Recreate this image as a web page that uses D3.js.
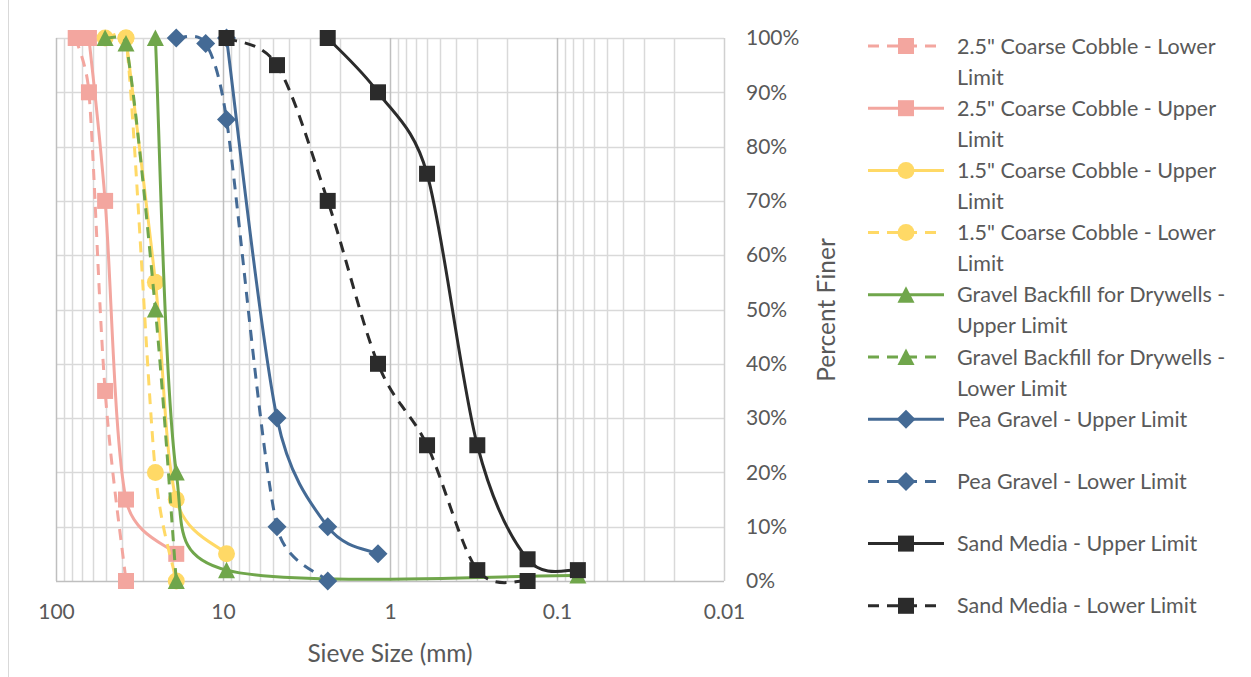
<!DOCTYPE html>
<html>
<head>
<meta charset="utf-8">
<script src="https://cdn.jsdelivr.net/npm/d3@7"></script>
<style>
  body { margin: 0; background: #fff; }
  svg text { font-family: Lato, "Open Sans", sans-serif; fill: #595959; }
</style>
</head>
<body>
<div id="chart"></div>
<script>
// sieve sizes (mm) and percent finer for each gradation band
const cobble25LowerSize = [76.2, 63.5, 50.8, 38.1];
const cobble25LowerPct  = [100, 90, 35, 0];
const cobble25UpperSize = [63.5, 50.8, 38.1, 19.05];
const cobble25UpperPct  = [100, 70, 15, 5];
const cobble15UpperSize = [38.1, 25.4, 19.05, 9.525];
const cobble15UpperPct  = [100, 55, 15, 5];
const cobble15LowerSize = [50.8, 38.1, 25.4, 19.05];
const cobble15LowerPct  = [100, 100, 20, 0];
const gravelUpperSize = [25.4, 19.05, 9.525, 0.075];
const gravelUpperPct  = [100, 20, 2, 1];
const gravelLowerSize = [50.8, 38.1, 25.4, 19.05];
const gravelLowerPct  = [100, 99, 50, 0];
const peaUpperSize = [9.525, 4.75, 2.36, 1.18];
const peaUpperPct  = [100, 30, 10, 5];
const peaLowerSize = [19.05, 12.7, 9.525, 4.75, 2.36];
const peaLowerPct  = [100, 99, 85, 10, 0];
const sandUpperSize = [2.36, 1.18, 0.6, 0.3, 0.15, 0.075];
const sandUpperPct  = [100, 90, 75, 25, 4, 2];
const sandLowerSize = [9.525, 4.75, 2.36, 1.18, 0.6, 0.3, 0.15];
const sandLowerPct  = [100, 95, 70, 40, 25, 2, 0];

const xTicks = [100, 10, 1, 0.1, 0.01];
const yTicks = [0, 10, 20, 30, 40, 50, 60, 70, 80, 90, 100];

const series = [
  {name: ["2.5\" Coarse Cobble - Lower", "Limit"], size: cobble25LowerSize, pct: cobble25LowerPct, color: "#F3A69F", dash: true, mark: "square"},
  {name: ["2.5\" Coarse Cobble - Upper", "Limit"], size: cobble25UpperSize, pct: cobble25UpperPct, color: "#F3A69F", dash: false, mark: "square"},
  {name: ["1.5\" Coarse Cobble - Upper", "Limit"], size: cobble15UpperSize, pct: cobble15UpperPct, color: "#FFD966", dash: false, mark: "circle"},
  {name: ["1.5\" Coarse Cobble - Lower", "Limit"], size: cobble15LowerSize, pct: cobble15LowerPct, color: "#FFD966", dash: true, mark: "circle"},
  {name: ["Gravel Backfill for Drywells -", "Upper Limit"], size: gravelUpperSize, pct: gravelUpperPct, color: "#70A64B", dash: false, mark: "triangle"},
  {name: ["Gravel Backfill for Drywells -", "Lower Limit"], size: gravelLowerSize, pct: gravelLowerPct, color: "#70A64B", dash: true, mark: "triangle"},
  {name: ["Pea Gravel - Upper Limit"], size: peaUpperSize, pct: peaUpperPct, color: "#446A95", dash: false, mark: "diamond"},
  {name: ["Pea Gravel - Lower Limit"], size: peaLowerSize, pct: peaLowerPct, color: "#446A95", dash: true, mark: "diamond"},
  {name: ["Sand Media - Upper Limit"], size: sandUpperSize, pct: sandUpperPct, color: "#2B2B2B", dash: false, mark: "square"},
  {name: ["Sand Media - Lower Limit"], size: sandLowerSize, pct: sandLowerPct, color: "#2B2B2B", dash: true, mark: "square"}
];

const width = 1251, height = 677;
const plot = {left: 56, right: 724, top: 38, bottom: 581};

const x = d3.scaleLog().domain([100, 0.01]).range([plot.left, plot.right]);
const y = d3.scaleLinear().domain([0, 100]).range([plot.bottom, plot.top]);

const svg = d3.select("#chart").append("svg")
  .attr("width", width).attr("height", height);

// outer chart border (left edge visible)
svg.append("line").attr("x1", 8.5).attr("x2", 8.5).attr("y1", 0).attr("y2", height)
  .attr("stroke", "#d9d9d9");

// minor log gridlines
const minor = [];
for (let e = -2; e < 2; e++) for (let m = 2; m <= 9; m++) minor.push(m * Math.pow(10, e));
svg.append("g").selectAll("line").data(minor).join("line")
  .attr("x1", d => Math.round(x(d)) + 0.5).attr("x2", d => Math.round(x(d)) + 0.5)
  .attr("y1", plot.top).attr("y2", plot.bottom)
  .attr("stroke", "#d9d9d9").attr("stroke-width", 1.5);

// horizontal gridlines
svg.append("g").selectAll("line").data(yTicks).join("line")
  .attr("x1", plot.left).attr("x2", plot.right)
  .attr("y1", d => Math.round(y(d)) + 0.5).attr("y2", d => Math.round(y(d)) + 0.5)
  .attr("stroke", d => d === 0 ? "#bfbfbf" : "#d9d9d9").attr("stroke-width", 1.5);

// decade gridlines
svg.append("g").selectAll("line").data(xTicks).join("line")
  .attr("x1", d => Math.round(x(d)) + 0.5).attr("x2", d => Math.round(x(d)) + 0.5)
  .attr("y1", plot.top).attr("y2", plot.bottom)
  .attr("stroke", d => d === 0.01 ? "#d0d0d0" : "#bfbfbf").attr("stroke-width", 1.5);

// x axis labels
const xAxis = d3.axisBottom(x).tickValues(xTicks).tickFormat(d => String(d)).tickSize(0).tickPadding(0);
svg.append("g").attr("transform", `translate(0,${plot.bottom + 31})`).call(xAxis)
  .call(g => g.select(".domain").remove())
  .selectAll("text").attr("font-size", 21).attr("dy", "0.32em")
  .style("font-family", "Lato, sans-serif").attr("fill", "#595959");

// y axis labels on the right
const yAxis = d3.axisRight(y).tickValues(yTicks).tickFormat(d => d + "%").tickSize(0).tickPadding(0);
svg.append("g").attr("transform", `translate(${plot.right + 22},0)`).call(yAxis)
  .call(g => g.select(".domain").remove())
  .selectAll("text").attr("font-size", 21)
  .style("font-family", "Lato, sans-serif").attr("fill", "#595959");

// axis titles
svg.append("text").attr("x", 390).attr("y", 662).attr("text-anchor", "middle")
  .attr("font-size", 24.5).text("Sieve Size (mm)");
svg.append("text").attr("transform", "translate(835,310) rotate(-90)")
  .attr("text-anchor", "middle").attr("font-size", 24.5).text("Percent Finer");

// marker shapes
function markerPath(type) {
  if (type === "square") return "M-8,-8H8V8H-8Z";
  if (type === "diamond") return "M0,-9.5L9.5,0L0,9.5L-9.5,0Z";
  if (type === "triangle") return "M0,-8.5L8.5,8L-8.5,8Z";
  return d3.symbol(d3.symbolCircle, Math.PI * 72)();
}

// Excel-style smoothing: bezier arms = (next - prev)/6, capped at half the segment
function smoothPath(p) {
  const dist = (a, b) => Math.hypot(a[0] - b[0], a[1] - b[1]);
  let d = `M${p[0][0]},${p[0][1]}`;
  for (let i = 0; i < p.length - 1; i++) {
    const p0 = p[Math.max(i - 1, 0)], p1 = p[i], p2 = p[i + 1], p3 = p[Math.min(i + 2, p.length - 1)];
    const d12 = dist(p1, p2);
    let a = [(p2[0] - p0[0]) / 6, (p2[1] - p0[1]) / 6];
    let b = [(p3[0] - p1[0]) / 6, (p3[1] - p1[1]) / 6];
    const la = Math.hypot(a[0], a[1]), lb = Math.hypot(b[0], b[1]);
    if (la > d12 / 2) a = a.map(v => v * d12 / 2 / la);
    if (lb > d12 / 2) b = b.map(v => v * d12 / 2 / lb);
    d += `C${p1[0] + a[0]},${p1[1] + a[1]},${p2[0] - b[0]},${p2[1] - b[1]},${p2[0]},${p2[1]}`;
  }
  return d;
}

series.forEach(s => {
  const pts = s.size.map((v, i) => [v, s.pct[i]]);
  const px = pts.map(d => [x(d[0]), y(d[1])]);
  const g = svg.append("g");
  g.append("path").attr("d", smoothPath(px))
    .attr("fill", "none").attr("stroke", s.color).attr("stroke-width", 3)
    .attr("stroke-dasharray", s.dash ? "11,8" : null);
  g.selectAll("path.m").data(pts).join("path").attr("class", "m")
    .attr("transform", d => `translate(${x(d[0])},${y(d[1])})`)
    .attr("d", markerPath(s.mark)).attr("fill", s.color);
});

// legend
const legend = svg.append("g");
series.forEach((s, i) => {
  const ly = 46 + i * 62.2;
  legend.append("line").attr("x1", 868).attr("x2", 944).attr("y1", ly).attr("y2", ly)
    .attr("stroke", s.color).attr("stroke-width", 3)
    .attr("stroke-dasharray", s.dash ? "11,8" : null);
  legend.append("path").attr("transform", `translate(906,${ly})`)
    .attr("d", markerPath(s.mark)).attr("fill", s.color);
  s.name.forEach((t, j) => {
    legend.append("text").attr("x", 957).attr("y", ly + 7.5 + j * 31)
      .attr("font-size", 21.5).text(t);
  });
});
</script>
</body>
</html>
